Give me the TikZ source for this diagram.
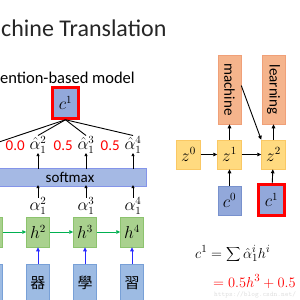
\documentclass[tikz,border=0pt]{standalone}
\usepackage{fontspec}
\setmainfont{Carlito}
\newfontfamily\cjk{Noto Sans CJK TC}
\usetikzlibrary{arrows.meta}
\definecolor{cblue}{RGB}{146,168,218}
\definecolor{cblueb}{RGB}{120,145,205}
\definecolor{inblue}{RGB}{157,187,227}
\definecolor{inblueb}{RGB}{120,160,215}
\definecolor{hgreen}{RGB}{169,209,142}
\definecolor{hgreenb}{RGB}{140,195,110}
\definecolor{zyel}{RGB}{255,218,128}
\definecolor{zyelb}{RGB}{250,200,100}
\definecolor{orng}{RGB}{245,180,140}
\definecolor{orngb}{RGB}{240,160,120}
\definecolor{smax}{RGB}{165,185,228}
\definecolor{garr}{RGB}{0,176,80}
\definecolor{barr}{RGB}{40,40,255}
\begin{document}
\begin{tikzpicture}[x=1pt,y=-1pt,
  box/.style={minimum width=23pt, minimum height=30pt, inner sep=0pt, line width=0.5pt},
  hbox/.style={box, fill=hgreen, draw=hgreenb},
  inbox/.style={box, fill=inblue, draw=inblueb, minimum height=38pt},
  zbox/.style={box, fill=zyel, draw=zyelb, minimum height=29pt, minimum width=24pt},
  obox/.style={box, fill=orng, draw=orngb, minimum height=69pt},
  cbox/.style={box, fill=cblue, draw=cblueb, minimum height=29pt},
  redbox/.style={box, fill=cblue, draw=red, line width=2.5pt, minimum width=26pt, minimum height=31pt},
  arr/.style={-{Triangle[length=4pt,width=3.6pt]}, line width=0.9pt},
  sarr/.style={-{Triangle[length=3pt,width=3pt]}, line width=0.7pt},
  mtxt/.style={font=\fontsize{16}{16}\selectfont},
  rednum/.style={text=red, font=\fontsize{15}{15}\selectfont, inner sep=1pt},
]
\useasboundingbox (0,0) rectangle (300,300);
\clip (0,0) rectangle (300,300);
\fill[white] (0,0) rectangle (300,300);

% titles
\node[anchor=base west, inner sep=0pt, font=\fontsize{24}{24}\selectfont, text=black!85] (title) at (1,36) {chine Translation};
\node[anchor=base west, inner sep=0pt, font=\fontsize{16.5}{16.5}\selectfont] (sub) at (0,83) {ention-based model};

% left attention model
\node[redbox, mtxt] (ctop) at (65.5,103) {$c^1$};

\node[mtxt, inner sep=0.5pt] (ah2) at (38,145) {$\hat{\alpha}_1^2$};
\node[mtxt, inner sep=0.5pt] (ah3) at (86,145) {$\hat{\alpha}_1^3$};
\node[mtxt, inner sep=0.5pt] (ah4) at (133,145) {$\hat{\alpha}_1^4$};
\node[rednum, anchor=east] (n2) at ([xshift=-3pt,yshift=-1pt]ah2.west) {0.0};
\node[rednum, anchor=east] (n3) at ([xshift=-3pt,yshift=-1pt]ah3.west) {0.5};
\node[rednum, anchor=east] (n4) at ([xshift=-3pt,yshift=-1pt]ah4.west) {0.5};
\coordinate (ah1) at (-10,145);

\draw[line width=0.9pt] (ctop.south) -- (ah1);
\draw[line width=0.9pt] (ctop.south) -- (ah2.north);
\draw[line width=0.9pt] (ctop.south) -- (ah3.north);
\draw[line width=0.9pt] (ctop.south) -- (ah4.north);

\node[fill=smax, draw=smax!80!blue, line width=0.3pt, minimum width=152pt, minimum height=18pt, inner sep=0pt,
      font=\fontsize{15}{15}\selectfont] (soft) at (70,177) {softmax};

\draw[sarr] ([yshift=-1pt]soft.north -| ah2) -- ([yshift=1.5pt]ah2.south);
\draw[sarr] ([yshift=-1pt]soft.north -| ah3) -- ([yshift=1.5pt]ah3.south);
\draw[sarr] ([yshift=-1pt]soft.north -| ah4) -- ([yshift=1.5pt]ah4.south);

\node[mtxt, inner sep=0.5pt] (a2) at (38,206) {$\alpha_1^2$};
\node[mtxt, inner sep=0.5pt] (a3) at (86,206) {$\alpha_1^3$};
\node[mtxt, inner sep=0.5pt] (a4) at (133,206) {$\alpha_1^4$};
\draw[sarr] ([yshift=-1pt]a2.north) -- ([yshift=1pt]soft.south -| a2);
\draw[sarr] ([yshift=-1pt]a3.north) -- ([yshift=1pt]soft.south -| a3);
\draw[sarr] ([yshift=-1pt]a4.north) -- ([yshift=1pt]soft.south -| a4);

\node[hbox, mtxt] (h1) at (-9,232) {};
\node[hbox, mtxt] (h2) at (38,232) {$h^2$};
\node[hbox, mtxt] (h3) at (85,232) {$h^3$};
\node[hbox, mtxt] (h4) at (132,232) {$h^4$};
\draw[arr, garr] (h1) -- (h2);
\draw[arr, garr] (h2) -- (h3);
\draw[arr, garr] (h3) -- (h4);

\node[inbox, font=\cjk\fontsize{15}{15}\selectfont] (i1) at (-9,283) {};
\node[inbox, font=\cjk\fontsize{15}{15}\selectfont] (i2) at (38,283) {器};
\node[inbox, font=\cjk\fontsize{15}{15}\selectfont] (i3) at (85,283) {學};
\node[inbox, font=\cjk\fontsize{15}{15}\selectfont] (i4) at (132,283) {習};
\draw[arr, barr] (i2) -- (h2);
\draw[arr, barr] (i3) -- (h3);
\draw[arr, barr] (i4) -- (h4);

% right decoder
\node[obox] (mach) at (229.5,89.5) {};
\node[obox] (learn) at (273.5,89.5) {};
\node[rotate=-90, font=\fontsize{15}{15}\selectfont, inner sep=0pt] (machtxt) at (mach) {machine};
\node[rotate=-90, font=\fontsize{15}{15}\selectfont, inner sep=0pt] (learntxt) at (learn) {learning};

\node[zbox, mtxt] (z0) at (188.5,154.5) {$z^0$};
\node[zbox, mtxt] (z1) at (229.5,154.5) {$z^1$};
\node[zbox, mtxt] (z2) at (273.5,154.5) {$z^2$};
\node[cbox, mtxt] (c0) at (229.5,200.5) {$c^0$};
\node[redbox, mtxt] (c1) at (271.5,200) {$c^1$};

\draw[arr] (z0) -- (z1);
\draw[arr] (z1) -- (z2);
\draw[arr] (z1) -- (mach);
\draw[arr] (z2) -- (learn);
\draw[arr] (c0) -- (z1);
\draw[arr] (c1) -- (z2);
\draw[arr] ([yshift=4pt]mach.east) -- (z2.north west);

% equations
\node[anchor=base west, inner sep=0pt, font=\fontsize{15}{15}\selectfont] (eq1) at (195,258) {$c^1 = \displaystyle\sum \hat{\alpha}_1^i h^i$};
\node[anchor=base west, inner sep=0pt, text=red, font=\fontsize{15}{15}\selectfont] (eq2) at (213,287) {$= 0.5h^3 + 0.5$};
\node[anchor=base west, inner sep=0pt, text=black!12, font=\ttfamily\fontsize{7}{7}\selectfont] (wm) at (214,296) {https://blog.csdn.net/};
\end{tikzpicture}
\end{document}
